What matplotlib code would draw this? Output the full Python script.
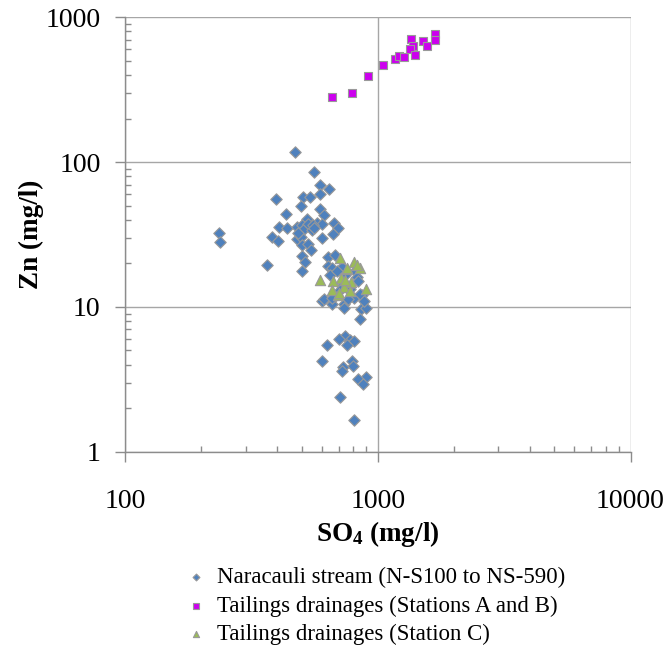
import matplotlib
matplotlib.use("Agg")
import matplotlib.pyplot as plt
from matplotlib.ticker import LogLocator, NullFormatter, FixedLocator

plt.rcParams['font.family'] = ['Liberation Serif', 'DejaVu Serif']
plt.rcParams['mathtext.fontset'] = 'custom'
plt.rcParams['mathtext.rm'] = 'Liberation Serif:bold'
plt.rcParams['mathtext.bf'] = 'Liberation Serif:bold'

# Naracauli stream samples: SO4 (mg/l), Zn (mg/l)
stream_so4 = [470, 559, 590, 643, 590, 396, 508, 540, 497, 592, 615, 435, 524,
              406, 439, 479, 500, 532, 574, 601, 670, 698, 668, 508, 550, 236,
              238, 382, 404, 479, 497, 603, 500, 528, 545, 500, 516, 365, 500,
              552, 484, 557, 637, 679, 637, 659, 648, 721, 815, 743, 826, 836,
              721, 778, 755, 802, 865, 601, 654, 659, 732, 732, 766, 858, 900,
              848, 743, 703, 778, 802, 759, 632, 601, 791, 797, 727, 721, 900,
              836, 874, 710, 802, 613, 853, 880, 659, 710, 693]
stream_zn = [117, 85.5, 69, 65, 60, 55.6, 57.7, 57.2, 49.7, 47.2, 43, 43.6, 40.3,
             35.8, 34.9, 35.5, 36.8, 37.4, 37.8, 37.4, 38.2, 34.9, 31.9, 34, 34, 32.2,
             28.1, 30.5, 28.4, 29.6, 30.5, 29.9, 26.8, 27.1, 24.7, 22.5, 20.4, 19.5, 17.7,
             36.8, 32.2, 34.9, 22, 22.8, 19.2, 18.5, 16.6, 19.0, 17.8, 16.6, 16.2, 15.0,
             14.0, 13.2, 13.4, 11.5, 12.1, 11.0, 11.1, 10.5, 10.5, 9.8, 11.3, 9.6, 9.8,
             8.2, 6.3, 5.97, 5.9, 5.8, 5.46, 5.44, 4.25, 4.25, 3.89, 3.85, 3.62, 3.29,
             3.16, 2.94, 2.40, 1.66, 11.3, 12.3, 10.9, 11.5, 13.1, 17.7]

# Tailings drainages, stations A and B
ab_so4 = [662, 794, 917, 1048, 1170, 1213, 1265, 1358, 1373, 1345, 1408, 1510,
          1567, 1690, 1690]
ab_zn = [283, 301, 393, 466, 518, 541, 534, 705, 634, 601, 547, 689, 634, 767, 697]

# Tailings drainages, station C
c_so4 = [710, 802, 759, 848, 830, 592, 665, 715, 785, 659, 732, 900, 696, 778,
         755, 703, 743]
c_zn = [21.7, 20.5, 18.3, 18.5, 19.5, 15.3, 15.1, 15.8, 14.8, 13.1, 13.8, 13.3,
        12.1, 12.9, 18.5, 12.4, 15.4]

x_ticks = [100, 1000, 10000]
y_ticks = [1, 10, 100, 1000]

fig = plt.figure(figsize=(6.68, 6.52), dpi=100)
ax = fig.add_axes([125 / 668, 1 - 451.7 / 652, 505.5 / 668, 434.4 / 652])

edge = '#999999'
ax.scatter(stream_so4, stream_zn, marker='D', s=34, c='#4f81bd',
           edgecolors=edge, linewidths=0.8, zorder=3,
           label='Naracauli stream (N-S100 to NS-590)')
ax.scatter(ab_so4, ab_zn, marker='s', s=40, c='#cc00ee',
           edgecolors=edge, linewidths=0.8, zorder=3,
           label='Tailings drainages (Stations A and B)')
ax.scatter(c_so4, c_zn, marker='^', s=55, c='#9bbb59',
           edgecolors=edge, linewidths=0.8, zorder=4,
           label='Tailings drainages (Station C)')

ax.set_xscale('log')
ax.set_yscale('log')
ax.set_xlim(100, 10000)
ax.set_ylim(1, 1000)

ax.xaxis.set_major_locator(FixedLocator(x_ticks))
ax.yaxis.set_major_locator(FixedLocator(y_ticks))
ax.set_xticklabels([str(v) for v in x_ticks])
ax.set_yticklabels([str(v) for v in y_ticks])
ax.xaxis.set_minor_locator(LogLocator(base=10, subs=range(2, 10)))
ax.yaxis.set_minor_locator(LogLocator(base=10, subs=range(2, 10)))
ax.xaxis.set_minor_formatter(NullFormatter())
ax.yaxis.set_minor_formatter(NullFormatter())

ax.grid(True, which='major', color='#a6a6a6', linewidth=1.0, zorder=0)
for side in ['top', 'right']:
    ax.spines[side].set_visible(False)
for side in ['left', 'bottom']:
    ax.spines[side].set_color('#8c8c8c')
    ax.spines[side].set_linewidth(1.0)

ax.tick_params(which='major', direction='out', length=7.5, width=1.0,
               color='#8c8c8c', labelsize=20, pad=10)
ax.tick_params(which='minor', direction='in', length=4, width=1.0,
               color='#8c8c8c')
ax.tick_params(axis='x', which='major', pad=19)

ax.set_xlabel(r'$\mathbf{SO_4}$ (mg/l)', fontsize=19.5, fontweight='bold',
              labelpad=4)
ax.set_ylabel('Zn (mg/l)', fontsize=19.5, fontweight='bold', labelpad=1)

fig.legend(loc='upper left', bbox_to_anchor=(178 / 668, 1 - 558 / 652),
           frameon=False, fontsize=16.5, handlelength=0.8, handletextpad=0.5,
           labelspacing=0.32, markerscale=0.6, borderaxespad=0)

fig.savefig('out.png', dpi=100)
